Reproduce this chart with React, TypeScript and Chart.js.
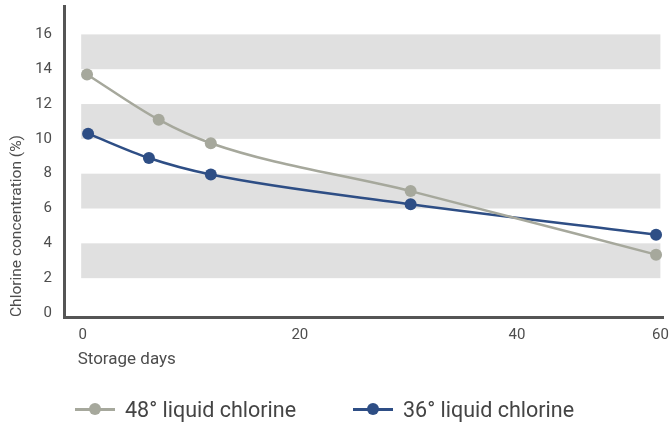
import React, { useEffect, useRef } from 'react';
import { Chart, registerables } from 'chart.js';

Chart.register(...registerables);

// storage days (as placed on the original's compressed axis) and chlorine %
const days48 = [0.4, 7.0, 11.8, 30.2, 52.8];
const conc48 = [13.7, 11.1, 9.75, 7.0, 3.35];
const days36 = [0.5, 6.1, 11.8, 30.2, 52.8];
const conc36 = [10.3, 8.9, 7.95, 6.25, 4.5];

const seriesNames = ['48° liquid chlorine', '36° liquid chlorine'];
const seriesColors = ['#a6a89c', '#2e4e85'];

const xTickPositions = [0, 20, 40, 53.2];
const xTickLabels = ['0', '20', '40', '60'];
const yTickValues = [0, 2, 4, 6, 8, 10, 12, 14, 16];
const bandRanges = [[2, 4], [6, 8], [10, 12], [14, 16]];

const FONT = 'Roboto, "DejaVu Sans", sans-serif';
const TEXT = '#4d4d4d';

export default function App() {
  const canvasRef = useRef<HTMLCanvasElement | null>(null);
  const chartRef = useRef<Chart | null>(null);

  useEffect(() => {
    if (!canvasRef.current) return;
    if (chartRef.current) chartRef.current.destroy();

    const bandsPlugin = {
      id: 'bands',
      beforeDatasetsDraw(chart: any) {
        const { ctx, scales } = chart;
        const x = scales.x, y = scales.y;
        const x0 = x.getPixelForValue(0) - 1.5;
        const x1 = x.getPixelForValue(53.2);
        ctx.save();
        ctx.fillStyle = '#e0e0e0';
        bandRanges.forEach(([lo, hi]) => {
          const top = y.getPixelForValue(hi);
          ctx.fillRect(x0, top, x1 - x0, y.getPixelForValue(lo) - top);
        });
        ctx.restore();
      },
      afterDraw(chart: any) {
        const { ctx, scales } = chart;
        ctx.save();
        ctx.font = `17px ${FONT}`;
        ctx.fillStyle = TEXT;
        ctx.textAlign = 'left';
        ctx.textBaseline = 'middle';
        ctx.fillText('Storage days', scales.x.getPixelForValue(0) - 5, scales.x.top + 43);
        ctx.restore();
      }
    };

    chartRef.current = new Chart(canvasRef.current, {
      type: 'line',
      data: {
        datasets: [
          {
            label: seriesNames[0],
            data: days48.map((d, i) => ({ x: d, y: conc48[i] })),
            borderColor: seriesColors[0],
            backgroundColor: seriesColors[0],
            borderWidth: 2.5,
            pointRadius: 6,
            pointBorderWidth: 0,
            cubicInterpolationMode: 'monotone'
          },
          {
            label: seriesNames[1],
            data: days36.map((d, i) => ({ x: d, y: conc36[i] })),
            borderColor: seriesColors[1],
            backgroundColor: seriesColors[1],
            borderWidth: 2.5,
            pointRadius: 6,
            pointBorderWidth: 0,
            cubicInterpolationMode: 'monotone'
          }
        ]
      },
      options: {
        responsive: true,
        maintainAspectRatio: false,
        animation: false,
        layout: { padding: { top: 4, right: 7, bottom: 48, left: 0 } },
        plugins: { legend: { display: false }, tooltip: { enabled: false } },
        scales: {
          x: {
            type: 'linear',
            min: -1.72,
            max: 53.44,
            grid: { display: false, drawTicks: false },
            border: { display: true, color: '#555555', width: 3 },
            afterBuildTicks: (scale: any) => {
              scale.ticks = xTickPositions.map(v => ({ value: v }));
            },
            afterFit: (scale: any) => {
              scale.height = 60;
              scale.paddingLeft = 0;
              scale.paddingRight = 0;
            },
            ticks: {
              padding: 9,
              color: TEXT,
              font: { family: FONT, size: 15 },
              maxRotation: 0,
              autoSkip: false,
              callback: (v: any) => {
                const i = xTickPositions.indexOf(Number(v));
                return i >= 0 ? xTickLabels[i] : '';
              }
            }
          },
          y: {
            min: -0.23,
            max: 17.63,
            grid: { display: false, drawTicks: false },
            border: { display: true, color: '#555555', width: 3 },
            afterBuildTicks: (scale: any) => {
              scale.ticks = yTickValues.map(v => ({ value: v }));
            },
            afterFit: (scale: any) => {
              scale.width = 64;
              scale.paddingTop = 0;
              scale.paddingBottom = 0;
            },
            ticks: {
              padding: 12,
              color: TEXT,
              font: { family: FONT, size: 15 }
            },
            title: {
              display: true,
              text: 'Chlorine concentration (%)',
              align: 'start',
              color: TEXT,
              font: { family: FONT, size: 15.5 },
              padding: { top: 8, bottom: 0 }
            }
          }
        }
      },
      plugins: [bandsPlugin]
    });

    return () => {
      if (chartRef.current) chartRef.current.destroy();
      chartRef.current = null;
    };
  }, []);

  const legendLeft = [75, 353];

  return (
    <div style={{ position: 'fixed', left: 0, top: 0, width: 670, height: 425, background: '#ffffff' }}>
      <canvas ref={canvasRef}></canvas>
      {seriesNames.map((name, i) => (
        <div
          key={name}
          style={{
            position: 'absolute',
            left: legendLeft[i],
            top: 396,
            height: 26,
            display: 'flex',
            alignItems: 'center',
            fontFamily: FONT,
            fontSize: 21.5,
            color: '#444444',
            whiteSpace: 'nowrap'
          }}
        >
          <span style={{ position: 'relative', width: 40, height: 12, marginRight: 10, display: 'inline-block', flexShrink: 0 }}>
            <span style={{ position: 'absolute', left: 0, top: 5, width: 40, height: 2.5, background: seriesColors[i] }}></span>
            <span style={{ position: 'absolute', left: 14, top: 0, width: 12, height: 12, borderRadius: 6, background: seriesColors[i] }}></span>
          </span>
          <span>{name}</span>
        </div>
      ))}
    </div>
  );
}
